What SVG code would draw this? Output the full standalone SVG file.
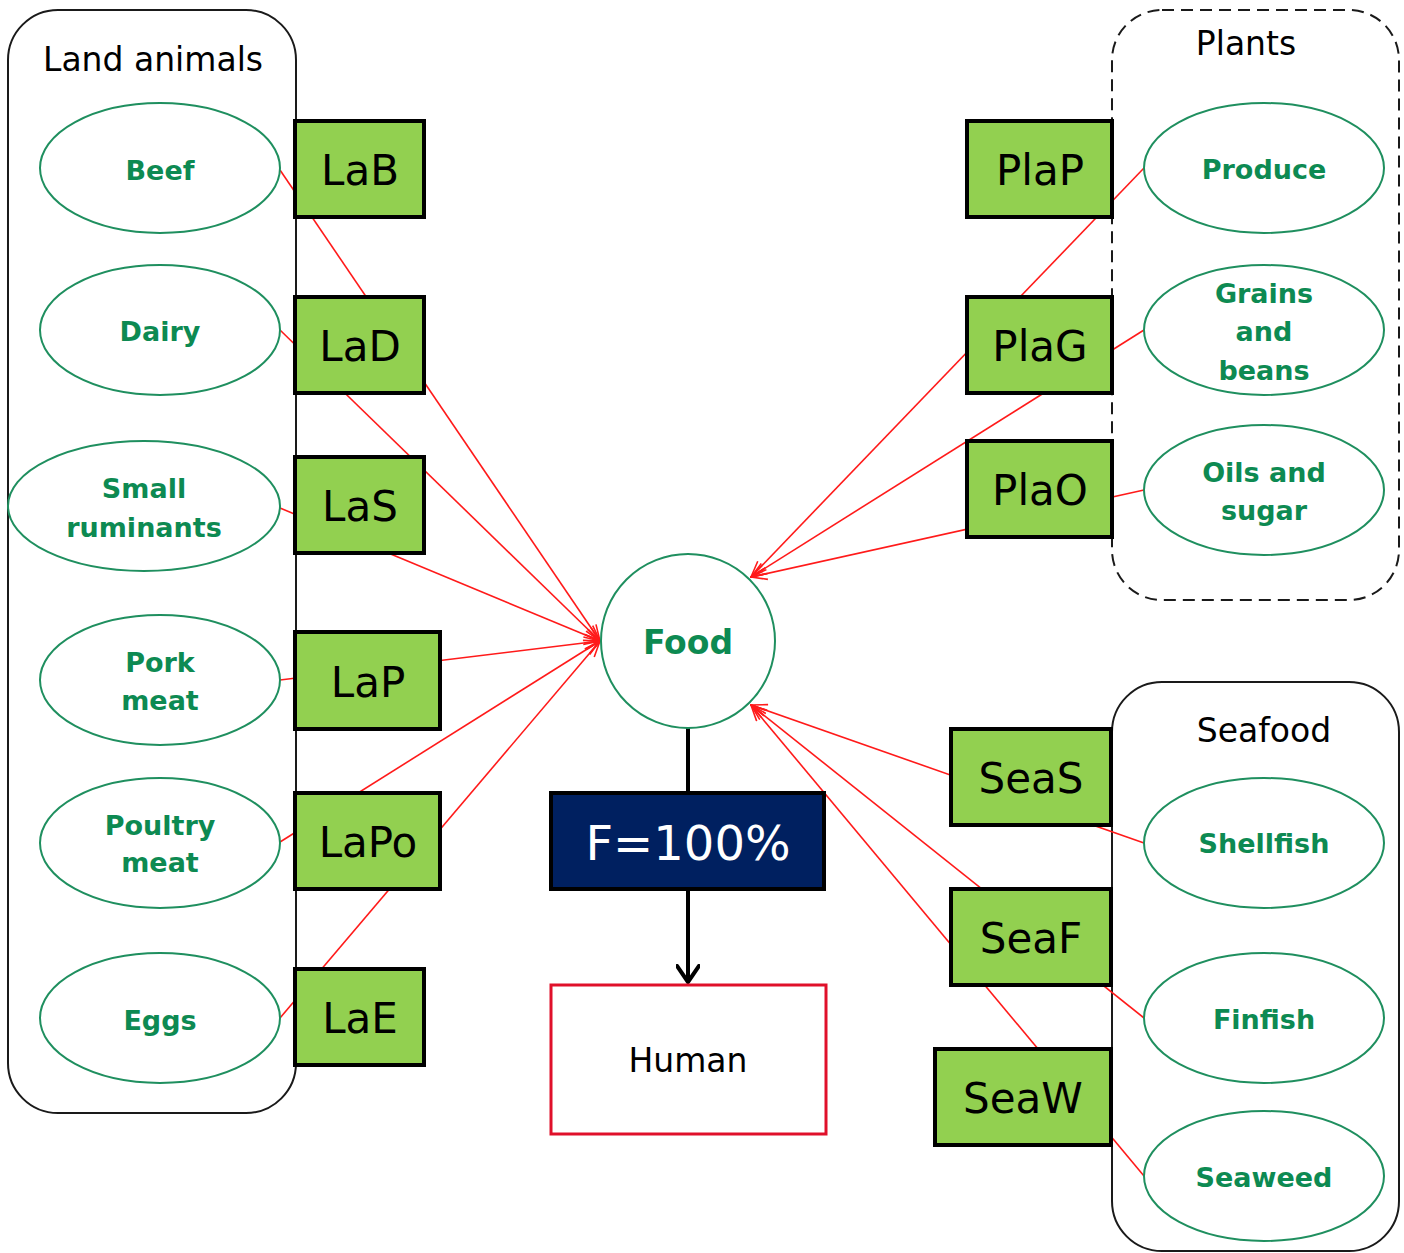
<svg xmlns="http://www.w3.org/2000/svg" width="1404" height="1253" viewBox="0 0 1404 1253">
<defs>
<style>
.cont{fill:none;stroke:#1a1a1a;stroke-width:2}
.dash{stroke-dasharray:12 7}
.ell{fill:#fff;stroke:#1f8f5f;stroke-width:2}
.lbl{font-family:"DejaVu Sans",Verdana,sans-serif;font-weight:bold;font-size:27px;fill:#0d8a52;text-anchor:middle}
.box{fill:#92d050;stroke:#000;stroke-width:4}
.btxt{font-family:"DejaVu Sans",Verdana,sans-serif;font-size:42px;fill:#000;text-anchor:middle}
.title{font-family:"DejaVu Sans",Verdana,sans-serif;font-size:33px;fill:#000;text-anchor:middle}
.conn{stroke:#ff1a1a;stroke-width:1.6;fill:none;marker-end:url(#arr)}
</style>
<marker id="arr" viewBox="0 0 18 14" refX="17" refY="7" markerWidth="18" markerHeight="14" markerUnits="userSpaceOnUse" orient="auto">
<path d="M1,1 L17,7 L1,13 M1,7 L17,7" fill="none" stroke="#ff1a1a" stroke-width="1.6"/>
</marker>
<marker id="barr" viewBox="0 0 24 20" refX="12" refY="18" markerWidth="24" markerHeight="20" markerUnits="userSpaceOnUse" orient="0">
<path d="M1,2 L12,18 L23,2" fill="none" stroke="#000" stroke-width="4" stroke-linecap="round" stroke-linejoin="round"/>
</marker>
</defs>
<rect width="1404" height="1253" fill="#fff"/>

<g id="land-animals">
<rect class="cont" x="8" y="10" width="288" height="1103" rx="50"/>
<text class="title" x="153" y="71">Land animals</text>
</g>
<g id="plants">
<rect class="cont dash" x="1112" y="10" width="287" height="590" rx="50"/>
<text class="title" x="1246" y="55">Plants</text>
</g>
<g id="seafood">
<rect class="cont" x="1112" y="682" width="287" height="569" rx="50"/>
<text class="title" x="1264" y="742">Seafood</text>
</g>

<g id="connectors">
<line class="conn" x1="280" y1="170" x2="600" y2="641"/>
<line class="conn" x1="280" y1="330" x2="600" y2="641"/>
<line class="conn" x1="280" y1="508" x2="600" y2="641"/>
<line class="conn" x1="280" y1="680" x2="600" y2="641"/>
<line class="conn" x1="280" y1="842" x2="600" y2="641"/>
<line class="conn" x1="280" y1="1018" x2="600" y2="641"/>
<line class="conn" x1="1144" y1="168" x2="751" y2="577"/>
<line class="conn" x1="1144" y1="330" x2="751" y2="577"/>
<line class="conn" x1="1144" y1="490" x2="751" y2="577"/>
<line class="conn" x1="1144" y1="843" x2="751" y2="705"/>
<line class="conn" x1="1144" y1="1018" x2="751" y2="705"/>
<line class="conn" x1="1144" y1="1176" x2="751" y2="705"/>
<line x1="688" y1="728" x2="688" y2="793" stroke="#000" stroke-width="4"/>
<line x1="688" y1="889" x2="688" y2="982" stroke="#000" stroke-width="4" marker-end="url(#barr)"/>
</g>

<g id="beef"><ellipse class="ell" cx="160" cy="168" rx="120" ry="65"/><text class="lbl" x="160" y="180">Beef</text></g>
<g id="dairy"><ellipse class="ell" cx="160" cy="330" rx="120" ry="65"/><text class="lbl" x="160" y="341">Dairy</text></g>
<g id="small-ruminants"><ellipse class="ell" cx="144" cy="506" rx="136" ry="65"/><text class="lbl" x="144" y="498">Small</text><text class="lbl" x="144" y="537">ruminants</text></g>
<g id="pork-meat"><ellipse class="ell" cx="160" cy="680" rx="120" ry="65"/><text class="lbl" x="160" y="672">Pork</text><text class="lbl" x="160" y="710">meat</text></g>
<g id="poultry-meat"><ellipse class="ell" cx="160" cy="843" rx="120" ry="65"/><text class="lbl" x="160" y="835">Poultry</text><text class="lbl" x="160" y="872">meat</text></g>
<g id="eggs"><ellipse class="ell" cx="160" cy="1018" rx="120" ry="65"/><text class="lbl" x="160" y="1030">Eggs</text></g>

<g id="produce"><ellipse class="ell" cx="1264" cy="168" rx="120" ry="65"/><text class="lbl" x="1264" y="179">Produce</text></g>
<g id="grains-beans"><ellipse class="ell" cx="1264" cy="330" rx="120" ry="65"/><text class="lbl" x="1264" y="303">Grains</text><text class="lbl" x="1264" y="341">and</text><text class="lbl" x="1264" y="380">beans</text></g>
<g id="oils-sugar"><ellipse class="ell" cx="1264" cy="490" rx="120" ry="65"/><text class="lbl" x="1264" y="482">Oils and</text><text class="lbl" x="1264" y="520">sugar</text></g>

<g id="shellfish"><ellipse class="ell" cx="1264" cy="843" rx="120" ry="65"/><text class="lbl" x="1264" y="853">Shellfish</text></g>
<g id="finfish"><ellipse class="ell" cx="1264" cy="1018" rx="120" ry="65"/><text class="lbl" x="1264" y="1029">Finfish</text></g>
<g id="seaweed"><ellipse class="ell" cx="1264" cy="1176" rx="120" ry="65"/><text class="lbl" x="1264" y="1187">Seaweed</text></g>

<g id="LaB"><rect class="box" x="295" y="121" width="129" height="96"/><text class="btxt" x="360" y="185">LaB</text></g>
<g id="LaD"><rect class="box" x="295" y="297" width="129" height="96"/><text class="btxt" x="360" y="361">LaD</text></g>
<g id="LaS"><rect class="box" x="295" y="457" width="129" height="96"/><text class="btxt" x="360" y="521">LaS</text></g>
<g id="LaP"><rect class="box" x="295" y="632" width="145" height="97"/><text class="btxt" x="368" y="697">LaP</text></g>
<g id="LaPo"><rect class="box" x="295" y="793" width="145" height="96"/><text class="btxt" x="368" y="857">LaPo</text></g>
<g id="LaE"><rect class="box" x="295" y="969" width="129" height="96"/><text class="btxt" x="360" y="1033">LaE</text></g>

<g id="PlaP"><rect class="box" x="967" y="121" width="145" height="96"/><text class="btxt" x="1040" y="185">PlaP</text></g>
<g id="PlaG"><rect class="box" x="967" y="297" width="145" height="96"/><text class="btxt" x="1040" y="361">PlaG</text></g>
<g id="PlaO"><rect class="box" x="967" y="441" width="145" height="96"/><text class="btxt" x="1040" y="505">PlaO</text></g>

<g id="SeaS"><rect class="box" x="951" y="729" width="160" height="96"/><text class="btxt" x="1031" y="793">SeaS</text></g>
<g id="SeaF"><rect class="box" x="951" y="889" width="160" height="96"/><text class="btxt" x="1031" y="953">SeaF</text></g>
<g id="SeaW"><rect class="box" x="935" y="1049" width="176" height="96"/><text class="btxt" x="1023" y="1113">SeaW</text></g>

<g id="food"><circle cx="688" cy="641" r="87" fill="#fff" stroke="#1f8f5f" stroke-width="2"/><text x="688" y="654" font-family="'DejaVu Sans',Verdana,sans-serif" font-weight="bold" font-size="33" fill="#0d8a52" text-anchor="middle">Food</text></g>
<g id="factor"><rect x="551" y="793" width="273" height="96" fill="#002060" stroke="#000" stroke-width="4"/><text x="688" y="860" font-family="'DejaVu Sans',Verdana,sans-serif" font-size="48" fill="#fff" text-anchor="middle">F=100%</text></g>
<g id="human"><rect x="551" y="985" width="275" height="149" fill="#fff" stroke="#e0102a" stroke-width="3"/><text class="title" x="688" y="1072">Human</text></g>
</svg>
